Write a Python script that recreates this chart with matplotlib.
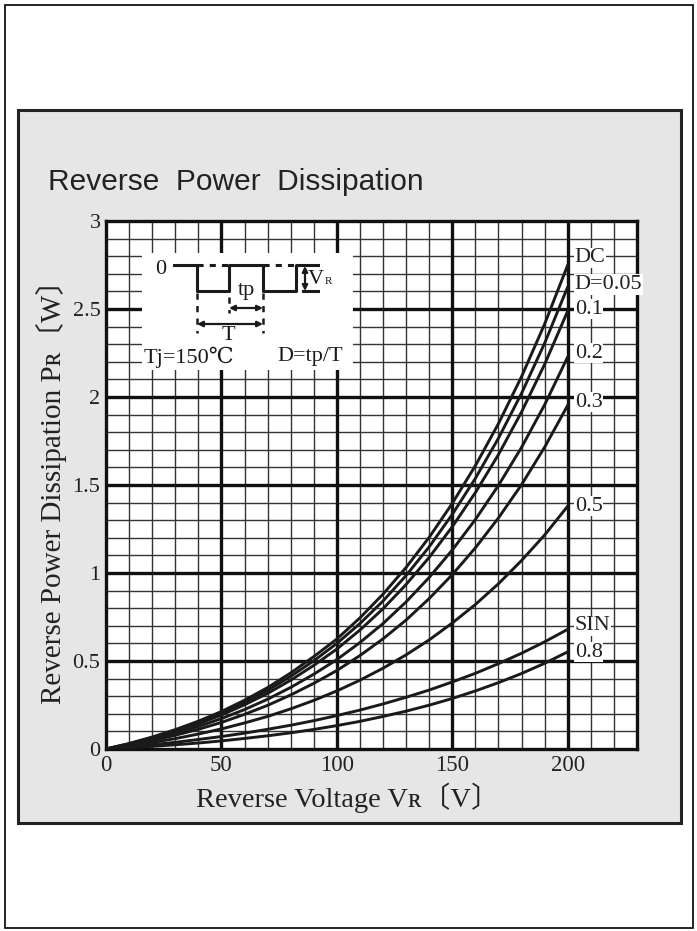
import matplotlib
matplotlib.use("Agg")
import matplotlib.pyplot as plt
from matplotlib.patches import Rectangle

# reverse voltage [V]
vr = [0, 10, 20, 30, 40, 50, 60, 70, 80, 90, 100,
      110, 120, 130, 140, 150, 160, 170, 180, 190, 200]

# reverse power dissipation [W]
p_dc = [0, 0.031, 0.068, 0.110, 0.158, 0.213, 0.277, 0.349, 0.432, 0.525, 0.625,
        0.745, 0.880, 1.032, 1.203, 1.396, 1.610, 1.849, 2.116, 2.415, 2.750]
p_d005 = [0, 0.030, 0.065, 0.105, 0.151, 0.203, 0.265, 0.333, 0.413, 0.501, 0.600,
          0.713, 0.841, 0.986, 1.149, 1.333, 1.538, 1.766, 2.021, 2.306, 2.626]
p_d01 = [0, 0.028, 0.062, 0.100, 0.143, 0.193, 0.251, 0.316, 0.391, 0.475, 0.568,
         0.676, 0.797, 0.935, 1.089, 1.263, 1.457, 1.673, 1.915, 2.186, 2.489]
p_d02 = [0, 0.025, 0.055, 0.089, 0.128, 0.173, 0.224, 0.283, 0.350, 0.425, 0.508,
         0.605, 0.713, 0.836, 0.975, 1.131, 1.304, 1.498, 1.714, 1.956, 2.228]
p_d03 = [0, 0.022, 0.048, 0.078, 0.112, 0.151, 0.197, 0.248, 0.307, 0.373, 0.446,
         0.531, 0.626, 0.733, 0.855, 0.991, 1.143, 1.313, 1.502, 1.715, 1.953]
p_d05 = [0, 0.017, 0.037, 0.059, 0.085, 0.114, 0.148, 0.185, 0.228, 0.276, 0.330,
         0.391, 0.459, 0.535, 0.620, 0.716, 0.821, 0.939, 1.071, 1.216, 1.380]
p_sin = [0, 0.011, 0.024, 0.038, 0.054, 0.071, 0.090, 0.112, 0.135, 0.161, 0.190,
         0.221, 0.256, 0.294, 0.335, 0.381, 0.430, 0.485, 0.544, 0.609, 0.680]
p_d08 = [0, 0.007, 0.015, 0.024, 0.034, 0.046, 0.060, 0.075, 0.092, 0.111, 0.133,
         0.157, 0.185, 0.215, 0.249, 0.287, 0.330, 0.377, 0.429, 0.487, 0.552]

curves = [p_dc, p_d005, p_d01, p_d02, p_d03, p_d05, p_sin, p_d08]
curve_labels = ['DC', 'D=0.05', '0.1', '0.2', '0.3', '0.5', 'SIN', '0.8']
label_y = [2.79, 2.64, 2.50, 2.25, 1.97, 1.38, 0.70, 0.55]

xticks = [0, 50, 100, 150, 200]
yticks = [0, 0.5, 1, 1.5, 2, 2.5, 3]
ytick_labels = ['0', '0.5', '1', '1.5', '2', '2.5', '3']

serif = ['Liberation Serif', 'DejaVu Serif', 'Noto Sans CJK JP']

W, H = 697, 931
fig = plt.figure(figsize=(W / 100, H / 100), dpi=100)

def fx(px):
    return px / W

def fy(py):
    return 1 - py / H

# outer frame and grey panel
fig.patches.append(Rectangle((fx(5), fy(928)), fx(688), 923 / H, transform=fig.transFigure,
                             fill=False, edgecolor='black', lw=1.2, zorder=-10))
fig.patches.append(Rectangle((fx(18), fy(823)), fx(663), 713 / H, transform=fig.transFigure,
                             facecolor='#e6e6e6', edgecolor='#222222', lw=2.2, zorder=-10))

fig.text(fx(48), fy(182), 'Reverse  Power  Dissipation', fontsize=21.5,
         family='Liberation Sans', color='#222222', va='center', ha='left')

ax = fig.add_axes([fx(106), fy(749), fx(637 - 106), (749 - 221) / H])
ax.set_facecolor('white')
ax.set_xlim(0, 230)
ax.set_ylim(0, 3)

# grid
for v in range(10, 230, 10):
    if v % 50:
        ax.axvline(v, color='#333333', lw=1.0, zorder=1)
for i in range(1, 30):
    if i % 5:
        ax.axhline(i / 10, color='#333333', lw=1.0, zorder=1)
for v in [50, 100, 150, 200]:
    ax.axvline(v, color='#111111', lw=2.4, zorder=1.5)
for v in [0.5, 1, 1.5, 2, 2.5]:
    ax.axhline(v, color='#111111', lw=2.4, zorder=1.5)
for s in ax.spines.values():
    s.set_linewidth(2.4)
    s.set_color('#111111')

for c in curves:
    ax.plot(vr, c, color='#1a1a1a', lw=2.1, zorder=3, solid_capstyle='round')

for lab, y in zip(curve_labels, label_y):
    ax.text(203, y, lab, fontsize=16, family=serif, color='#222222', va='center', ha='left',
            zorder=4, bbox=dict(facecolor='white', edgecolor='none', pad=0.5))

ax.set_xticks(xticks)
ax.set_xticklabels([str(t) for t in xticks], family=serif, fontsize=16.5, color='#222222')
ax.set_yticks(yticks)
ax.set_yticklabels(ytick_labels, family=serif, fontsize=16, color='#222222')
ax.tick_params(length=0, pad=4)
ax.set_xlabel('Reverse Voltage Vʀ〔V〕', family=serif, fontsize=20.5, color='#222222')
ax.xaxis.set_label_coords(0.455, -0.064)
ax.set_ylabel('Reverse Power Dissipation Pʀ〔W〕', family=serif, fontsize=21, color='#222222',
              labelpad=4)

# inset waveform sketch (drawn in picture pixel units)
ins = fig.add_axes([fx(142), fy(370), fx(353 - 142), (370 - 253) / H], zorder=5)
ins.set_xlim(142, 353)
ins.set_ylim(370, 253)
ins.set_facecolor('white')
ins.set_xticks([])
ins.set_yticks([])
for s in ins.spines.values():
    s.set_visible(False)

k = '#1a1a1a'
ins.plot([174, 197, 197, 229, 229, 263, 263, 296, 296, 318],
         [265, 265, 291, 291, 265, 265, 291, 291, 265, 265], color=k, lw=2.2)
ins.plot([303, 318], [291, 291], color=k, lw=2.2)
ins.plot([197, 229], [265, 265], color=k, lw=2.2, ls=(0, (2, 2)))
ins.plot([263, 296], [265, 265], color=k, lw=2.2, ls=(0, (2, 2)))
ins.plot([197, 197], [293, 333], color=k, lw=1.8, ls=(0, (2.5, 2.5)))
ins.plot([263, 263], [293, 333], color=k, lw=1.8, ls=(0, (2.5, 2.5)))
ins.plot([229, 229], [297, 313], color=k, lw=1.8, ls=(0, (2.5, 2.5)))
arrow = dict(arrowstyle='<|-|>', color=k, lw=1.6, mutation_scale=8, shrinkA=0, shrinkB=0)
ins.annotate('', xy=(229, 308), xytext=(263, 308), arrowprops=arrow)
ins.annotate('', xy=(197, 324), xytext=(263, 324), arrowprops=arrow)
ins.annotate('', xy=(305, 266), xytext=(305, 291), arrowprops=arrow)

ins.text(161, 269, '0', fontsize=16, family=serif, color=k, ha='center', va='center')
ins.text(246, 290, 'tp', fontsize=16, family=serif, color=k, ha='center', va='center')
ins.text(228, 335, 'T', fontsize=16, family=serif, color=k, ha='center', va='center')
ins.text(308, 279, 'V', fontsize=16, family=serif, color=k, ha='left', va='center')
ins.text(325, 282, 'R', fontsize=8, family=serif, color=k, ha='left', va='center')
ins.text(189, 357, 'Tj=150℃', fontsize=16, family=serif, color=k, ha='center', va='center')
ins.text(310, 357, 'D=tp/T', fontsize=16, family=serif, color=k, ha='center', va='center')

fig.savefig('out.png', dpi=100)
